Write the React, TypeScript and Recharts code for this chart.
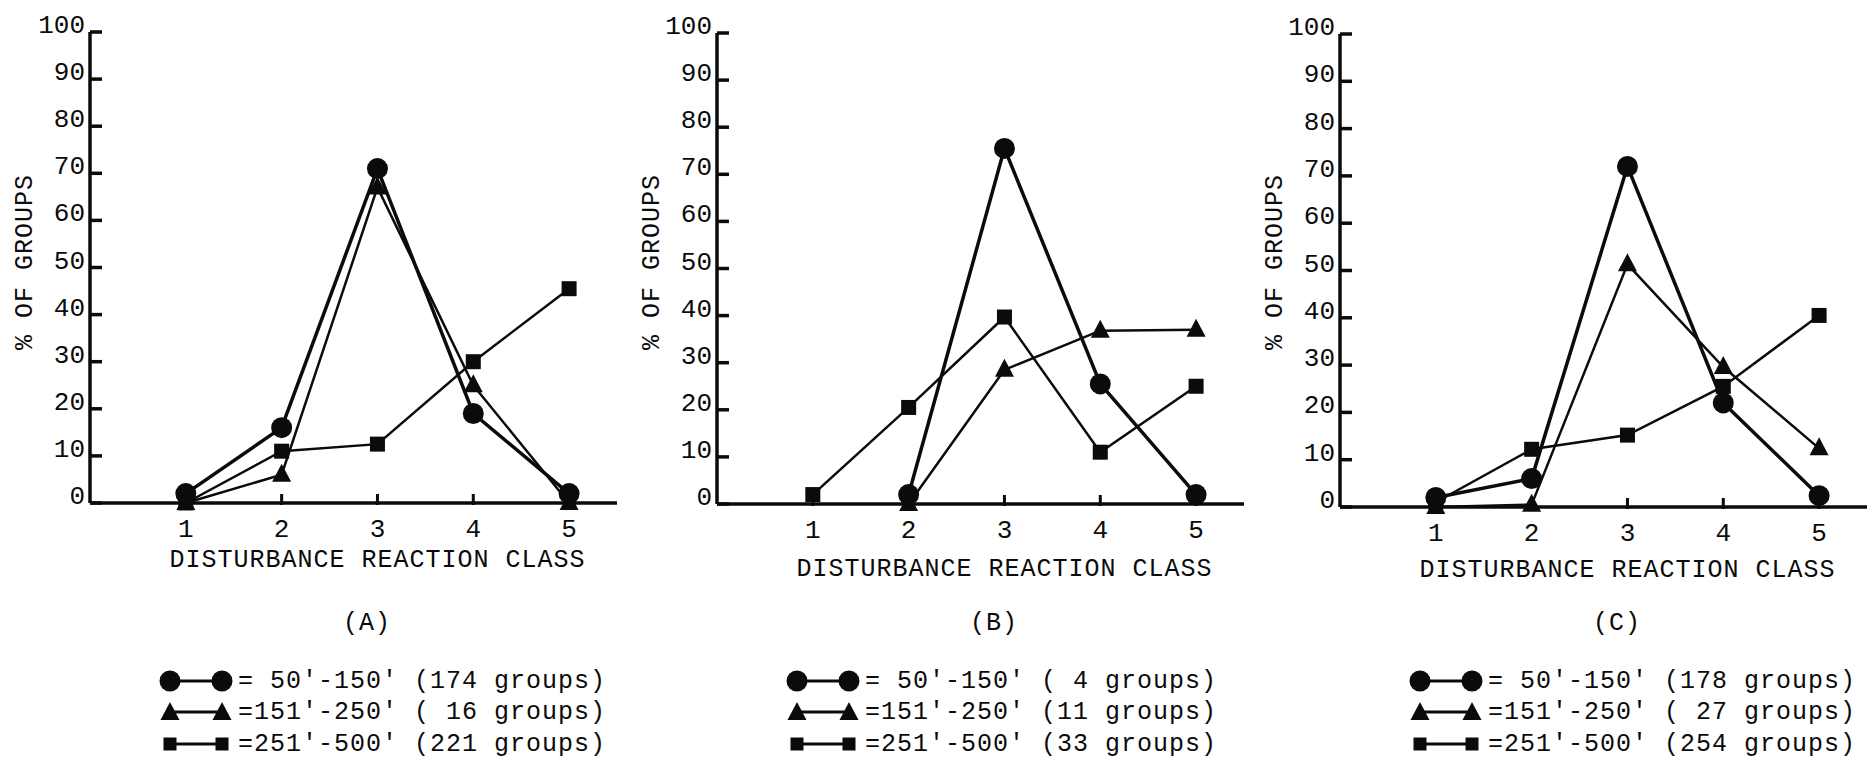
import React from 'react';
import { LineChart, Line, XAxis, YAxis, Label } from 'recharts';

// ---------- data ----------
const categories = [1, 2, 3, 4, 5];
const yTicks = [0, 10, 20, 30, 40, 50, 60, 70, 80, 90, 100];
const rangeLabels = ["50'-150'", "151'-250'", "251'-500'"];
const panelCaptions = ['(A)', '(B)', '(C)'];

const aCircle = [2, 16, 71, 19, 2];
const aTriangle = [0, 6, 67, 25, 0];
const aSquare = [0, 11, 12.5, 30, 45.5];
const aGroups = [174, 16, 221];

const bCircle = [null, 2, 75.5, 25.5, 2];
const bTriangle = [null, 0, 28.5, 36.8, 37];
const bSquare = [2, 20.5, 39.7, 11, 25];
const bGroups = [4, 11, 33];

const cCircle = [2, 6, 72, 22, 2.4];
const cTriangle = [0, 0.5, 51.3, 29.6, 12.4];
const cSquare = [1, 12.2, 15.2, 25.5, 40.5];
const cGroups = [178, 27, 254];

const FONT = "'Liberation Mono', 'DejaVu Sans Mono', monospace";
const INK = '#0b0b0b';

type Num = number | null;

function buildRows(circle: Num[], tri: Num[], sq: Num[]) {
  return categories.map((c, i) => ({ cls: c, circle: circle[i], triangle: tri[i], square: sq[i] }));
}

// ---------- marker shapes ----------
const CircleMark = ({ cx, cy, r = 10.5 }: any) => <circle cx={cx} cy={cy} r={r} fill={INK} />;
const TriangleMark = ({ cx, cy, s = 1 }: any) => (
  <polygon
    points={`${cx},${cy - 11 * s} ${cx - 9.5 * s},${cy + 7 * s} ${cx + 9.5 * s},${cy + 7 * s}`}
    fill={INK}
  />
);
const SquareMark = ({ cx, cy, size = 15 }: any) => (
  <rect x={cx - size / 2} y={cy - size / 2} width={size} height={size} fill={INK} />
);

function makeDot(kind: string) {
  return (p: any) => {
    const key = `${kind}-${p.index}`;
    if (p.value == null || p.cx == null || p.cy == null || isNaN(p.cy)) return <g key={key} />;
    if (kind === 'circle') return <CircleMark key={key} cx={p.cx} cy={p.cy} />;
    if (kind === 'triangle') return <TriangleMark key={key} cx={p.cx} cy={p.cy} />;
    return <SquareMark key={key} cx={p.cx} cy={p.cy} />;
  };
}

// ---------- panel ----------
const CHART_W = 627;
const CHART_H = 761;
const PLOT_LEFT = 90;
const PLOT_W = 527;
const Y_AXIS_W = 60;
const X_AXIS_H = 30;

type PanelProps = {
  left: number;
  top: number;
  zero: number;
  xLabelDy: number;
  circle: Num[];
  triangle: Num[];
  square: Num[];
  groups: number[];
  caption: string;
};

function Panel({ left, top, zero, xLabelDy, circle, triangle, square, groups, caption }: PanelProps) {
  const data = buildRows(circle, triangle, square);
  const step = PLOT_W / 5.5;

  const YTick = (props: any) => {
    const { y, payload } = props;
    return (
      <g>
        <line x1={PLOT_LEFT} x2={PLOT_LEFT + 12} y1={y} y2={y} stroke={INK} strokeWidth={3.5} />
        <text
          x={PLOT_LEFT - 5}
          y={y + 1}
          textAnchor="end"
          fontFamily={FONT}
          fontSize={26}
          fill={INK}
        >
          {payload.value}
        </text>
      </g>
    );
  };

  const XTick = (props: any) => {
    const { x, payload } = props;
    return (
      <g>
        <line x1={x} x2={x} y1={zero + 2} y2={zero - 9} stroke={INK} strokeWidth={3} />
        <text
          x={x}
          y={zero + 27}
          textAnchor="middle"
          dominantBaseline="central"
          fontFamily={FONT}
          fontSize={26}
          fill={INK}
        >
          {payload.value}
        </text>
      </g>
    );
  };

  const digits = Math.max(...groups.map((g) => String(g).length));
  const legendKinds = ['circle', 'triangle', 'square'];
  const rowY = [681, 712, 744];

  return (
    <div style={{ position: 'absolute', left, top: 0, width: CHART_W, height: CHART_H }}>
      <LineChart
        width={CHART_W}
        height={CHART_H}
        data={data}
        margin={{ top, left: PLOT_LEFT - Y_AXIS_W, right: CHART_W - PLOT_LEFT - PLOT_W, bottom: CHART_H - zero - X_AXIS_H }}
      >
        <XAxis
          type="number"
          dataKey="cls"
          domain={[0, 5.5]}
          ticks={categories}
          height={X_AXIS_H}
          axisLine={{ stroke: INK, strokeWidth: 3.5 }}
          tickLine={false}
          tick={<XTick />}
          interval={0}
        >
          <Label
            content={() => (
              <text
                x={PLOT_LEFT + 3 * step}
                y={zero + xLabelDy}
                textAnchor="middle"
                dominantBaseline="central"
                fontFamily={FONT}
                fontSize={25}
                letterSpacing={1}
                fill={INK}
              >
                DISTURBANCE REACTION CLASS
              </text>
            )}
          />
        </XAxis>
        <YAxis
          type="number"
          domain={[0, 100]}
          ticks={yTicks}
          width={Y_AXIS_W}
          axisLine={{ stroke: INK, strokeWidth: 3.5 }}
          tickLine={false}
          tick={<YTick />}
          interval={0}
        >
          <Label
            content={() => (
              <text
                x={25}
                y={262}
                transform={`rotate(-90, 25, 262)`}
                textAnchor="middle"
                dominantBaseline="central"
                fontFamily={FONT}
                fontSize={25}
                letterSpacing={1}
                fill={INK}
              >
                % OF GROUPS
              </text>
            )}
          />
        </YAxis>
        <Line
          type="linear"
          dataKey="square"
          stroke={INK}
          strokeWidth={2.5}
          dot={makeDot('square')}
          activeDot={false}
          isAnimationActive={false}
          connectNulls={false}
        />
        <Line
          type="linear"
          dataKey="triangle"
          stroke={INK}
          strokeWidth={2.5}
          dot={makeDot('triangle')}
          activeDot={false}
          isAnimationActive={false}
          connectNulls={false}
        />
        <Line
          type="linear"
          dataKey="circle"
          stroke={INK}
          strokeWidth={3.5}
          dot={makeDot('circle')}
          activeDot={false}
          isAnimationActive={false}
          connectNulls={false}
        />
      </LineChart>
      <svg
        width={CHART_W}
        height={170}
        style={{ position: 'absolute', left: 0, top: 591 }}
      >
        <text
          x={PLOT_LEFT + 277}
          y={623 - 591}
          textAnchor="middle"
          dominantBaseline="central"
          fontFamily={FONT}
          fontSize={25}
          letterSpacing={1}
          fill={INK}
        >
          {caption}
        </text>
        {legendKinds.map((k, i) => {
          const cy = rowY[i] - 591;
          const x1 = PLOT_LEFT + 80;
          const x2 = PLOT_LEFT + 132;
          const text = '=' + rangeLabels[i].padStart(9, ' ') + ' (' + String(groups[i]).padStart(digits, ' ') + ' groups)';
          return (
            <g key={k}>
              <line x1={x1} x2={x2} y1={cy} y2={cy} stroke={INK} strokeWidth={3} />
              {k === 'circle' && (
                <>
                  <CircleMark cx={x1} cy={cy} />
                  <CircleMark cx={x2} cy={cy} />
                </>
              )}
              {k === 'triangle' && (
                <>
                  <TriangleMark cx={x1} cy={cy + 1} />
                  <TriangleMark cx={x2} cy={cy + 1} />
                </>
              )}
              {k === 'square' && (
                <>
                  <SquareMark cx={x1} cy={cy} size={13} />
                  <SquareMark cx={x2} cy={cy} size={13} />
                </>
              )}
              <text
                x={PLOT_LEFT + 148}
                y={cy}
                dominantBaseline="central"
                fontFamily={FONT}
                fontSize={25}
                letterSpacing={1}
                fill={INK}
                style={{ whiteSpace: 'pre' }}
                xmlSpace="preserve"
              >
                {text}
              </text>
            </g>
          );
        })}
      </svg>
    </div>
  );
}

export default function App() {
  return (
    <div style={{ position: 'absolute', left: 0, top: 0, width: 1873, height: 761, background: '#fff', overflow: 'hidden' }}>
      <Panel left={0} top={32} zero={503} xLabelDy={57} circle={aCircle} triangle={aTriangle} square={aSquare} groups={aGroups} caption={panelCaptions[0]} />
      <Panel left={627} top={33} zero={504} xLabelDy={65} circle={bCircle} triangle={bTriangle} square={bSquare} groups={bGroups} caption={panelCaptions[1]} />
      <Panel left={1250} top={34} zero={507} xLabelDy={63} circle={cCircle} triangle={cTriangle} square={cSquare} groups={cGroups} caption={panelCaptions[2]} />
    </div>
  );
}
